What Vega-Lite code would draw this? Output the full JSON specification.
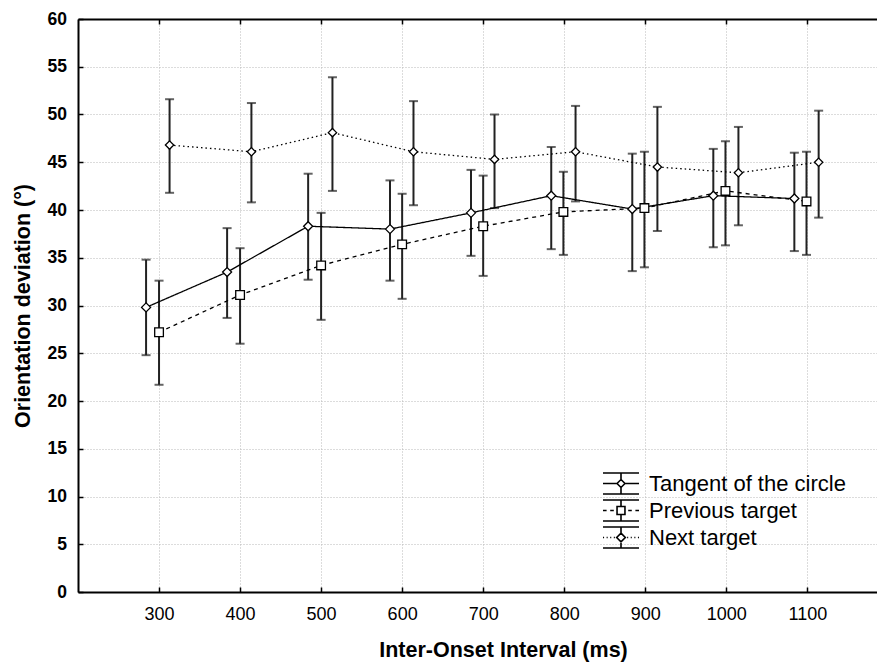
{
  "$schema": "https://vega.github.io/schema/vega-lite/v6.json",
  "width": 799,
  "height": 573,
  "autosize": {"type": "none"},
  "padding": {"left": 78, "top": 19, "right": 0, "bottom": 70},
  "background": "white",
  "config": {
    "font": "Liberation Sans",
    "view": {"stroke": null}
  },
  "data": {
    "values": [
      {"series": "Tangent of the circle", "x": 284, "mean": 29.8, "lo": 24.8, "hi": 34.8},
      {"series": "Tangent of the circle", "x": 384, "mean": 33.5, "lo": 28.7, "hi": 38.1},
      {"series": "Tangent of the circle", "x": 484, "mean": 38.3, "lo": 32.7, "hi": 43.8},
      {"series": "Tangent of the circle", "x": 585, "mean": 38.0, "lo": 32.6, "hi": 43.1},
      {"series": "Tangent of the circle", "x": 685, "mean": 39.7, "lo": 35.2, "hi": 44.2},
      {"series": "Tangent of the circle", "x": 784, "mean": 41.5, "lo": 35.9, "hi": 46.6},
      {"series": "Tangent of the circle", "x": 884, "mean": 40.1, "lo": 33.6, "hi": 45.9},
      {"series": "Tangent of the circle", "x": 984, "mean": 41.5, "lo": 36.1, "hi": 46.4},
      {"series": "Tangent of the circle", "x": 1084, "mean": 41.2, "lo": 35.7, "hi": 46.0},
      {"series": "Previous target", "x": 300, "mean": 27.2, "lo": 21.7, "hi": 32.6},
      {"series": "Previous target", "x": 400, "mean": 31.1, "lo": 26.0, "hi": 36.0},
      {"series": "Previous target", "x": 500, "mean": 34.2, "lo": 28.5, "hi": 39.7},
      {"series": "Previous target", "x": 600, "mean": 36.4, "lo": 30.7, "hi": 41.7},
      {"series": "Previous target", "x": 700, "mean": 38.3, "lo": 33.1, "hi": 43.6},
      {"series": "Previous target", "x": 799, "mean": 39.8, "lo": 35.3, "hi": 44.0},
      {"series": "Previous target", "x": 899, "mean": 40.2, "lo": 34.0, "hi": 46.1},
      {"series": "Previous target", "x": 999, "mean": 42.0, "lo": 36.3, "hi": 47.2},
      {"series": "Previous target", "x": 1099, "mean": 40.9, "lo": 35.3, "hi": 46.1},
      {"series": "Next target", "x": 313, "mean": 46.8, "lo": 41.8, "hi": 51.6},
      {"series": "Next target", "x": 414, "mean": 46.1, "lo": 40.8, "hi": 51.2},
      {"series": "Next target", "x": 514, "mean": 48.1, "lo": 42.0, "hi": 53.9},
      {"series": "Next target", "x": 614, "mean": 46.1, "lo": 40.5, "hi": 51.4},
      {"series": "Next target", "x": 714, "mean": 45.3, "lo": 40.2, "hi": 50.0},
      {"series": "Next target", "x": 814, "mean": 46.1, "lo": 40.9, "hi": 50.9},
      {"series": "Next target", "x": 915, "mean": 44.5, "lo": 37.8, "hi": 50.8},
      {"series": "Next target", "x": 1015, "mean": 43.9, "lo": 38.4, "hi": 48.7},
      {"series": "Next target", "x": 1114, "mean": 45.0, "lo": 39.2, "hi": 50.4}
    ]
  },
  "resolve": {
    "scale": {"shape": "independent", "size": "independent"},
    "legend": {"shape": "independent"},
    "axis": {"x": "independent"}
  },
  "layer": [
    {
      "mark": {"type": "rule", "color": "#222222", "strokeWidth": 2},
      "encoding": {
        "x": {
          "field": "x", "type": "quantitative",
          "scale": {"domain": [200, 1186], "nice": false, "zero": false},
          "axis": {
            "orient": "bottom",
            "title": "Inter-Onset Interval (ms)",
            "values": [300, 400, 500, 600, 700, 800, 900, 1000, 1100],
            "format": "d",
            "grid": true, "gridColor": "#b8b8b8", "gridDash": [1, 2], "gridWidth": 1,
            "domainColor": "black", "domainWidth": 2,
            "ticks": true, "tickSize": -5, "tickColor": "black", "tickWidth": 1.5,
            "labelFont": "Liberation Sans", "labelFontSize": 18, "labelColor": "black", "labelPadding": 18,
            "titleFont": "Liberation Sans", "titleFontSize": 21.5, "titleFontWeight": "bold", "titleColor": "black",
            "titlePadding": 16, "titleX": 425
          }
        },
        "y": {
          "field": "lo", "type": "quantitative",
          "title": "Orientation deviation (°)",
          "scale": {"domain": [0, 60], "nice": false, "zero": true},
          "axis": {
            "values": [0, 5, 10, 15, 20, 25, 30, 35, 40, 45, 50, 55, 60],
            "grid": true, "gridColor": "#b8b8b8", "gridDash": [1, 2], "gridWidth": 1,
            "domainColor": "black", "domainWidth": 2,
            "ticks": true, "tickSize": -5, "tickColor": "black", "tickWidth": 1.5,
            "labelFont": "Liberation Sans", "labelFontSize": 17.5, "labelFontWeight": "bold", "labelColor": "black", "labelPadding": 16.5,
            "titleFont": "Liberation Sans", "titleFontSize": 21.5, "titleFontWeight": "bold", "titleColor": "black",
            "titlePadding": 13
          }
        },
        "y2": {"field": "hi"}
      }
    },
    {
      "mark": {"type": "tick", "orient": "horizontal", "size": 9, "thickness": 2, "color": "#222222"},
      "encoding": {
        "x": {"field": "x", "type": "quantitative", "axis": null},
        "y": {"field": "lo", "type": "quantitative", "title": "Orientation deviation (°)"}
      }
    },
    {
      "mark": {"type": "tick", "orient": "horizontal", "size": 9, "thickness": 2, "color": "#222222"},
      "encoding": {
        "x": {"field": "x", "type": "quantitative", "axis": null},
        "y": {"field": "hi", "type": "quantitative", "title": "Orientation deviation (°)"}
      }
    },
    {
      "mark": {"type": "line", "color": "black", "strokeWidth": 1.3},
      "encoding": {
        "x": {"field": "x", "type": "quantitative", "axis": null},
        "y": {"field": "mean", "type": "quantitative", "title": "Orientation deviation (°)"},
        "detail": {"field": "series"},
        "strokeDash": {
          "field": "series", "type": "nominal",
          "scale": {"domain": ["Tangent of the circle", "Previous target", "Next target"], "range": [[1, 0], [4, 4], [1.5, 3]]},
          "legend": null
        }
      }
    },
    {
      "mark": {"type": "point", "filled": true, "fill": "white", "stroke": "black", "strokeWidth": 1.3, "opacity": 1},
      "encoding": {
        "x": {"field": "x", "type": "quantitative", "axis": null},
        "y": {"field": "mean", "type": "quantitative", "title": "Orientation deviation (°)"},
        "shape": {
          "field": "series", "type": "nominal",
          "scale": {"domain": ["Tangent of the circle", "Previous target", "Next target"], "range": ["diamond", "square", "diamond"]},
          "legend": null
        },
        "size": {
          "field": "series", "type": "nominal",
          "scale": {"domain": ["Tangent of the circle", "Previous target", "Next target"], "range": [81, 70, 121]},
          "legend": null
        }
      }
    },
    {
      "transform": [{"filter": "datum.x < 0"}],
      "mark": {"type": "point", "filled": false, "color": "black", "stroke": "black", "strokeWidth": 1.5, "opacity": 1, "size": 1296},
      "encoding": {
        "x": {"field": "x", "type": "quantitative", "axis": {"orient": "top", "labels": false, "grid": false, "title": null, "values": [300, 400, 500, 600, 700, 800, 900, 1000, 1100], "domainColor": "black", "domainWidth": 2, "ticks": true, "tickSize": -5, "tickColor": "black", "tickWidth": 1.5}},
        "y": {"field": "mean", "type": "quantitative", "title": "Orientation deviation (°)"},
        "shape": {
          "field": "series", "type": "nominal",
          "scale": {
            "domain": ["Tangent of the circle", "Previous target", "Next target"],
            "range": [
              "M-1,-0.58H1M-1,0.58H1M0,-0.58V-0.22M0,0.22V0.58M-1,0H-0.22M0.22,0H1M0,-0.22L0.22,0L0,0.22L-0.22,0Z",
              "M-1,-0.58H1M-1,0.58H1M0,-0.58V-0.22M0,0.22V0.58M-1,0H-0.8M-0.6,0H-0.4M0.4,0H0.6M0.8,0H1M-0.22,-0.22H0.22V0.22H-0.22Z",
              "M-1,-0.58H1M-1,0.58H1M0,-0.58V-0.24M0,0.24V0.58M-1,0H-0.94M-0.8,0H-0.74M-0.6,0H-0.54M-0.4,0H-0.34M0.34,0H0.4M0.54,0H0.6M0.74,0H0.8M0.94,0H1M0,-0.24L0.24,0L0,0.24L-0.24,0Z"
            ]
          },
          "legend": {
            "orient": "none", "legendX": 524, "legendY": 451,
            "title": null, "padding": 0, "rowPadding": 0, "clipHeight": 27,
            "symbolSize": 1296, "symbolStrokeWidth": 1.6, "symbolStrokeColor": "black",
            "symbolOpacity": 1, "symbolOffset": 0,
            "labelFont": "Liberation Sans", "labelFontSize": 22, "labelColor": "black", "labelOffset": 9,
            "labelLimit": 400
          }
        }
      }
    }
  ]
}
